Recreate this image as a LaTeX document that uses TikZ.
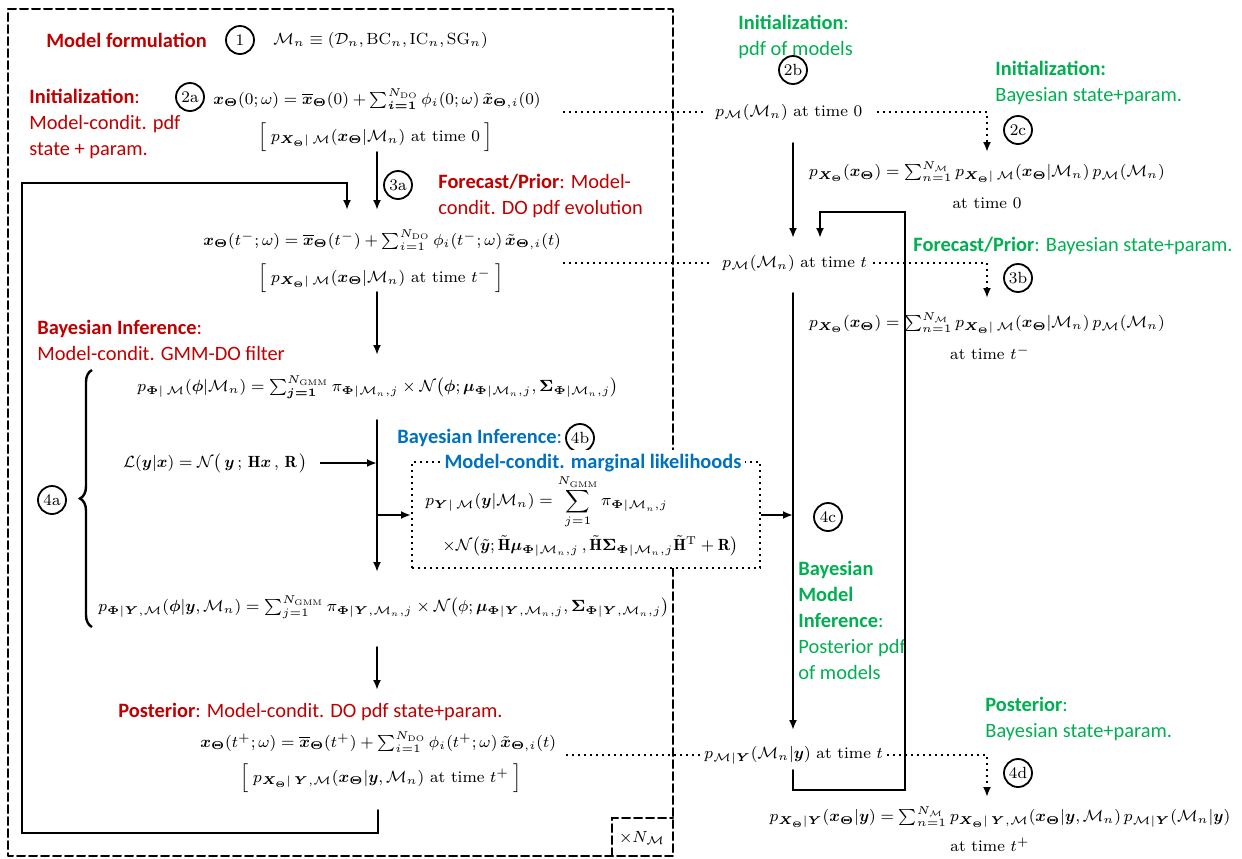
\documentclass[tikz,border=0pt]{standalone}
\usepackage{fix-cm}
\usepackage{fontspec}
\usepackage{amsmath}
\usepackage{bm}
\usepackage{tkz-euclide}
\usetikzlibrary{arrows.meta,decorations.pathreplacing}
\newfontfamily\calibri{Carlito}
\definecolor{rojo}{RGB}{192,0,0}
\definecolor{verde}{RGB}{0,176,80}
\definecolor{azul}{RGB}{0,112,192}

\begin{document}
\begin{tikzpicture}[x=0.5pt,y=-0.5pt,
    font=\fontsize{8.1}{10}\selectfont,
    num/.style={circle,draw,line width=0.9pt,minimum size=14pt,inner sep=0pt},
    rotulo/.style={font=\calibri\fontsize{10.2}{13}\selectfont,align=left,inner sep=0pt},
    formula/.style={inner sep=0pt},
    flecha/.style={line width=1pt,-{Latex[length=5pt,width=4pt]}},
    punteada/.style={line width=1pt,dotted},
    discontinua/.style={line width=1pt,dash pattern=on 4pt off 2pt},
    llave/.style={line width=1.2pt,decorate,decoration={brace,amplitude=6pt}}]
        \path[use as bounding box] (0,0) rectangle (1242,858);

        % Define los vertices del recuadro de los modelos.
        \tkzDefPoint(8,9){M1}
        \tkzDefPoint(673,9){M2}
        \tkzDefPoint(673,856){M3}
        \tkzDefPoint(8,856){M4}
        \tkzDefPoint(612,856){X1}
        \tkzDefPoint(612,818){X2}
        \tkzDefPoint(673,818){X3}

        % Dibuja el recuadro discontinuo y la esquina x N_M
        \tkzDrawPolygon[discontinua](M1,M2,M3,M4)
        \tkzDrawPolySeg[discontinua](X1,X2,X3)
        \node (xN) at (642,838) {$\times N_{\mathcal{M}}$};

        % Formulacion del modelo
        \node[rotulo,anchor=west,text=rojo] (tMod) at (46,40) {\textbf{Model formulation}};
        \node[num] (c1) at (240,40) {1};
        \node[formula,anchor=west] (fMod) at (273,40)
            {$\mathcal{M}_n \equiv (\mathcal{D}_n, \mathrm{BC}_n, \mathrm{IC}_n, \mathrm{SG}_n)$};

        % Inicializacion condicionada al modelo
        \node[rotulo,anchor=west,text=rojo] (tIni) at (29,124)
            {\textbf{Initialization}:\\Model-condit. pdf\\state + param.};
        \node[num] (c2a) at (190,97) {2a};
        \node[formula,anchor=west] (f2a) at (213,99)
            {$\bm{x}_{\bm{\Theta}}(0;\omega) = \overline{\bm{x}}_{\bm{\Theta}}(0) + \sum_{\bm{i=1}}^{N_{\mathrm{DO}}} \phi_i(0;\omega)\, \tilde{\bm{x}}_{\bm{\Theta},i}(0)$};
        \node[formula,anchor=west] (b2a) at (258,137)
            {$\Big[\; p_{\bm{X}_{\bm{\Theta}}|\,\mathcal{M}}(\bm{x}_{\bm{\Theta}}|\mathcal{M}_n)\ \text{at time}\ 0 \;\Big]$};

        % Pronostico condicionado al modelo
        \node[num] (c3a) at (398,185) {3a};
        \node[rotulo,anchor=west,text=rojo] (t3a) at (438,196)
            {\textbf{Forecast/Prior}: Model-\\condit. DO pdf evolution};
        \node[formula,anchor=west] (f3a) at (203,240)
            {$\bm{x}_{\bm{\Theta}}(t^-;\omega) = \overline{\bm{x}}_{\bm{\Theta}}(t^-) + \sum_{i=1}^{N_{\mathrm{DO}}} \phi_i(t^-;\omega)\, \tilde{\bm{x}}_{\bm{\Theta},i}(t)$};
        \node[formula,anchor=west] (b3a) at (258,278)
            {$\Big[\; p_{\bm{X}_{\bm{\Theta}}|\,\mathcal{M}}(\bm{x}_{\bm{\Theta}}|\mathcal{M}_n)\ \text{at time}\ t^- \;\Big]$};

        % Inferencia bayesiana: filtro GMM-DO
        \node[rotulo,anchor=west,text=rojo] (tBI) at (37,340)
            {\textbf{Bayesian Inference}:\\Model-condit. GMM-DO filter};
        \node[num] (c4a) at (52,500) {4a};
        \tkzDefPoint(92,627){Br1}
        \tkzDefPoint(92,370){Br2}
        \draw[llave] (Br1) -- (Br2);
        \node[formula,anchor=west] (fPhi) at (137,387)
            {$p_{\bm{\Phi}|\,\mathcal{M}}(\bm{\phi}|\mathcal{M}_n) = \sum_{\bm{j=1}}^{N_{\mathrm{GMM}}} \pi_{\bm{\Phi}|\mathcal{M}_n,j} \times \mathcal{N}\big(\bm{\phi};\bm{\mu}_{\bm{\Phi}|\mathcal{M}_n,j},\bm{\Sigma}_{\bm{\Phi}|\mathcal{M}_n,j}\big)$};
        \node[formula,anchor=west] (fL) at (123,463)
            {$\mathcal{L}(\bm{y}|\bm{x}) = \mathcal{N}\big(\,\bm{y}\,;\,\mathbf{H}\bm{x}\,,\,\mathbf{R}\,\big)$};
        \node[formula,anchor=west] (fPY) at (98,607)
            {$p_{\bm{\Phi}|\bm{Y},\mathcal{M}}(\bm{\phi}|\bm{y},\mathcal{M}_n) = \sum_{j=1}^{N_{\mathrm{GMM}}} \pi_{\bm{\Phi}|\bm{Y},\mathcal{M}_n,j} \times \mathcal{N}\big(\phi;\bm{\mu}_{\bm{\Phi}|\bm{Y},\mathcal{M}_n,j},\bm{\Sigma}_{\bm{\Phi}|\bm{Y},\mathcal{M}_n,j}\big)$};

        % Verosimilitudes marginales (recuadro punteado)
        \node[rotulo,anchor=west,text=azul] (tBI2) at (397,438) {\textbf{Bayesian Inference}:};
        \node[num] (c4b) at (580,438) {4b};
        \node[draw,dotted,line width=1pt,fill=white,minimum width=174pt,minimum height=53pt] (caja) at (586,515) {};
        \node[rotulo,text=azul,fill=white,inner sep=2pt] (tMarg) at (593,463)
            {\textbf{Model-condit. marginal likelihoods}};
        \node[formula,anchor=west] (fY1) at (425,502)
            {$p_{\bm{Y}|\,\mathcal{M}}(\bm{y}|\mathcal{M}_n) = \displaystyle\sum_{j=1}^{N_{\mathrm{GMM}}} \pi_{\bm{\Phi}|\mathcal{M}_n,j}$};
        \node[formula,anchor=west] (fY2) at (442,546)
            {$\times\mathcal{N}\big(\tilde{\bm{y}};\tilde{\mathbf{H}}\bm{\mu}_{\bm{\Phi}|\mathcal{M}_n,j}\,,\tilde{\mathbf{H}}\bm{\Sigma}_{\bm{\Phi}|\mathcal{M}_n,j}\tilde{\mathbf{H}}^{\mathrm{T}}+\mathbf{R}\big)$};

        % Posterior condicionada al modelo
        \node[rotulo,anchor=west,text=rojo] (tPost) at (118,712)
            {\textbf{Posterior}: Model-condit. DO pdf state+param.};
        \node[formula,anchor=west] (fPost) at (200,742)
            {$\bm{x}_{\bm{\Theta}}(t^+;\omega) = \overline{\bm{x}}_{\bm{\Theta}}(t^+) + \sum_{i=1}^{N_{\mathrm{DO}}} \phi_i(t^+;\omega)\,\tilde{\bm{x}}_{\bm{\Theta},i}(t)$};
        \node[formula,anchor=west] (bPost) at (240,778)
            {$\Big[\; p_{\bm{X}_{\bm{\Theta}}|\,\bm{Y},\mathcal{M}}(\bm{x}_{\bm{\Theta}}|\bm{y},\mathcal{M}_n)\ \text{at time}\ t^+ \;\Big]$};

        % Columna derecha: pdf de los modelos
        \node[rotulo,anchor=west,text=verde] (tIniG) at (738,37)
            {\textbf{Initialization}:\\pdf of models};
        \node[num] (c2b) at (793,70) {2b};
        \node[formula,anchor=west] (nM0) at (715,112) {$p_{\mathcal{M}}(\mathcal{M}_n)$ at time $0$};
        \node[formula,anchor=west] (nMt) at (722,263) {$p_{\mathcal{M}}(\mathcal{M}_n)$ at time $t$};
        \node[formula,anchor=west] (nMY) at (704,755) {$p_{\mathcal{M}|\bm{Y}}(\mathcal{M}_n|\bm{y})$ at time $t$};
        \node[num] (c4c) at (828,517) {4c};
        \node[rotulo,anchor=west,text=verde] (tBMI) at (798,620)
            {\textbf{Bayesian}\\\textbf{Model}\\\textbf{Inference}:\\Posterior pdf\\of models};

        % Columna derecha: estado+parametros bayesianos
        \node[rotulo,anchor=west,text=verde] (tIniG2) at (995,83)
            {\textbf{Initialization:}\\Bayesian state+param.};
        \node[num] (c2c) at (1018,130) {2c};
        \node[formula] (f2c) at (987,172)
            {$p_{\bm{X}_{\bm{\Theta}}}(\bm{x}_{\bm{\Theta}}) = \sum_{n=1}^{N_{\mathcal{M}}} p_{\bm{X}_{\bm{\Theta}}|\,\mathcal{M}}(\bm{x}_{\bm{\Theta}}|\mathcal{M}_n)\,p_{\mathcal{M}}(\mathcal{M}_n)$};
        \node (at0) at (987,203) {at time $0$};
        \node[rotulo,anchor=west,text=verde] (tFP) at (913,246)
            {\textbf{Forecast/Prior}: Bayesian state+param.};
        \node[num] (c3b) at (1018,278) {3b};
        \node[formula] (f3b) at (987,323)
            {$p_{\bm{X}_{\bm{\Theta}}}(\bm{x}_{\bm{\Theta}}) = \sum_{n=1}^{N_{\mathcal{M}}} p_{\bm{X}_{\bm{\Theta}}|\,\mathcal{M}}(\bm{x}_{\bm{\Theta}}|\mathcal{M}_n)\,p_{\mathcal{M}}(\mathcal{M}_n)$};
        \node (atm) at (990,353) {at time $t^-$};
        \node[rotulo,anchor=west,text=verde] (tPostG) at (985,719)
            {\textbf{Posterior}:\\Bayesian state+param.};
        \node[num] (c4d) at (1018,773) {4d};
        \node[formula] (f4d) at (1000,817)
            {$p_{\bm{X}_{\bm{\Theta}}|\bm{Y}}(\bm{x}_{\bm{\Theta}}|\bm{y}) = \sum_{n=1}^{N_{\mathcal{M}}} p_{\bm{X}_{\bm{\Theta}}|\,\bm{Y},\mathcal{M}}(\bm{x}_{\bm{\Theta}}|\bm{y},\mathcal{M}_n)\,p_{\mathcal{M}|\bm{Y}}(\mathcal{M}_n|\bm{y})$};
        \node (atp) at (990,845) {at time $t^+$};

        % Define los puntos de las flechas
        \tkzDefPoint(377,152){A1} \tkzDefPoint(377,210){A2}
        \tkzDefPoint(377,292){A3} \tkzDefPoint(377,355){A4}
        \tkzDefPoint(377,420){A5} \tkzDefPoint(377,572){A6}
        \tkzDefPoint(377,463){A7} \tkzDefPoint(377,515){A8}
        \tkzDefPoint(793,515){A9}
        \tkzDefPoint(377,647){A10} \tkzDefPoint(377,690){A11}
        \tkzDefPoint(793,143){B1} \tkzDefPoint(793,238){B2}
        \tkzDefPoint(793,293){B3} \tkzDefPoint(793,730){B4}

        % Dibuja las flechas del filtro
        \tkzDrawSegment[flecha](A1,A2)
        \tkzDrawSegment[flecha](A3,A4)
        \tkzDrawSegment[flecha](A5,A6)
        \draw[flecha,shorten <=6pt] (fL.east) -- (A7);
        \draw[flecha] (A8) -- (caja.west);
        \draw[flecha] (caja.east) -- (A9);
        \tkzDrawSegment[flecha](A10,A11)
        \tkzDrawSegment[flecha](B1,B2)
        \tkzDrawSegment[flecha](B3,B4)

        % Lazos de retroalimentacion
        \tkzDefPoint(378,810){L1} \tkzDefPoint(378,833){L2}
        \tkzDefPoint(22,833){L3}  \tkzDefPoint(22,183){L4}
        \tkzDefPoint(347,183){L5} \tkzDefPoint(347,210){L6}
        \tkzDrawPolySeg[flecha](L1,L2,L3,L4,L5,L6)
        \tkzDefPoint(793,770){R1} \tkzDefPoint(793,790){R2}
        \tkzDefPoint(905,790){R3} \tkzDefPoint(905,212){R4}
        \tkzDefPoint(820,212){R5} \tkzDefPoint(820,238){R6}
        \tkzDrawPolySeg[flecha](R1,R2,R3,R4,R5,R6)

        % Lineas punteadas hacia la columna derecha
        \tkzDefPoint(563,112){d1} \tkzDefPoint(987,112){e1} \tkzDefPoint(987,152){e2}
        \tkzDefPoint(563,263){d2} \tkzDefPoint(987,263){e3} \tkzDefPoint(987,298){e4}
        \tkzDefPoint(566,755){d3} \tkzDefPoint(987,755){e5} \tkzDefPoint(987,797){e6}
        \draw[punteada,shorten >=6pt] (d1) -- (nM0.west);
        \draw[punteada,shorten >=6pt] (d2) -- (nMt.west);
        \draw[punteada,shorten >=2pt] (d3) -- (nMY.west);
        \draw[punteada,flecha,shorten <=7pt] (nM0.east) -- (e1) -- (e2);
        \draw[punteada,flecha,shorten <=3pt] (nMt.east) -- (e3) -- (e4);
        \draw[punteada,flecha,shorten <=2pt] (nMY.east) -- (e5) -- (e6);
\end{tikzpicture}
\end{document}
